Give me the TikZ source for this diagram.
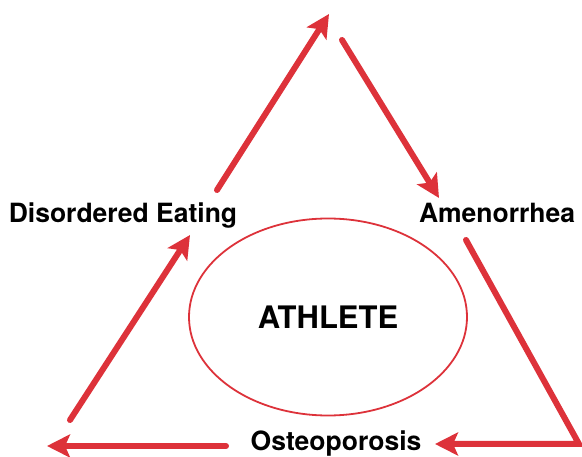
\documentclass[tikz,border=0pt]{standalone}
\usepackage{fontspec}
\setmainfont{TeX Gyre Heros}
\usetikzlibrary{arrows.meta,shapes.geometric}
\definecolor{triadred}{RGB}{221,50,58}

\begin{document}
\begin{tikzpicture}[x=1pt,y=-1pt,
    cyc/.style={triadred, line width=6pt, line cap=round, -{Stealth[length=23pt,width=23pt,inset=5pt]}},
    lbl/.style={draw=none, anchor=base, inner sep=0pt, font=\bfseries\fontsize{26.5}{30}\selectfont}]

\useasboundingbox (0,0) rectangle (582,457); % Keep page size

\node [draw=triadred, line width=1.8pt, ellipse, minimum width=278pt, minimum height=197pt, inner sep=0pt,
       font=\bfseries\fontsize{31}{36}\selectfont] (athlete) at (328,317) {ATHLETE};

\node [lbl] (eating) at (123,223) {Disordered Eating};
\node [lbl] (amen) at (497,223) {Amenorrhea};
\node [lbl] (osteo) at (336,451) {Osteoporosis};

\coordinate (e1) at (217,190);
\coordinate (peak) at (329,14);
\coordinate (a0) at (342,40);
\coordinate (a1) at (439,198);
\coordinate (a2) at (466,240);
\coordinate (corner) at (579,444);
\coordinate (o1) at (435,444);
\coordinate (o2) at (226,446);
\coordinate (o3) at (47,446);
\coordinate (e2) at (70,420);
\coordinate (e3) at (190,235);

\foreach \From/\To in {e1/peak, a0/a1, o2/o3, e2/e3}{
    \draw[cyc] (\From) -- (\To);
}
\draw[cyc] (a2) -- (corner) -- (o1); % Bend at bottom right

\end{tikzpicture}
\end{document}
